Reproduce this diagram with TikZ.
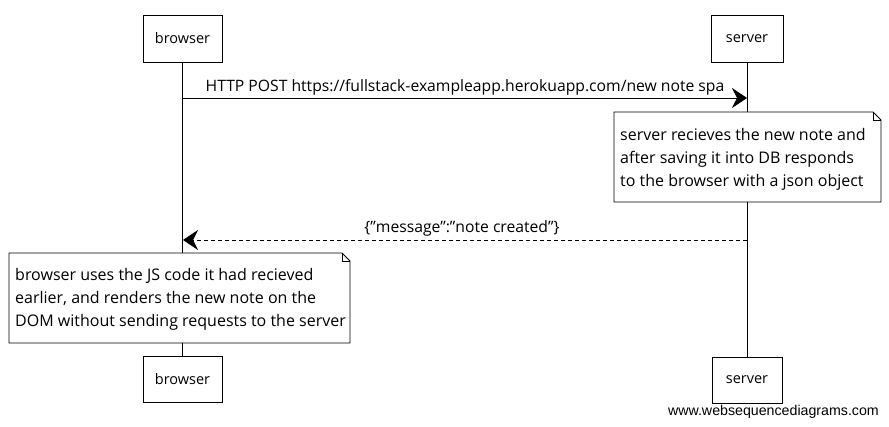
\documentclass[tikz,border=0pt]{standalone}
\usepackage{fontspec}
\setmainfont{Open Sans}[Ligatures=ResetAll]
\newfontfamily\wsdfont{Liberation Sans}
\newcommand{\sq}{\char"22\relax}
\usetikzlibrary{arrows.meta}
\tikzset{
  actor/.style={draw, line width=0.8pt, fill=white, inner sep=0pt, font=\fontsize{14.5}{16}\selectfont},
  lifeline/.style={line width=0.9pt},
  msg/.style={line width=0.9pt, -{Stealth[length=15pt, width=20pt, inset=5pt]}},
  reply/.style={msg, dash pattern=on 4pt off 3pt},
  notetext/.style={inner xsep=6pt, inner ysep=0pt, align=left, font=\fontsize{16}{23}\selectfont},
  notebox/.style={draw, line width=0.8pt, fill=white},
  lbl/.style={font=\fontsize{15.7}{18}\selectfont, inner sep=0pt}
}
\begin{document}
\begin{tikzpicture}[x=1pt,y=-1pt]
\useasboundingbox (0,0) rectangle (889,427);
% actors
\node[actor, minimum width=79pt, minimum height=47pt] (bt) at (182.5,38.5) {browser};
\node[actor, minimum width=72pt, minimum height=47pt] (st) at (747,38.5) {server};
\node[actor, minimum width=79pt, minimum height=46pt] (bb) at (182.5,379.5) {browser};
\node[actor, minimum width=70pt, minimum height=46pt] (sb) at (747,380) {server};
% lifelines
\draw[lifeline] (bt.south) -- (bb.north);
\draw[lifeline] (st.south) -- (sb.north);
% message 1
\coordinate (m1s) at (183,98);
\coordinate (m1e) at (747,98);
\draw[msg] (m1s) -- (m1e);
\node[lbl] (m1l) at (465,87) {HTTP POST https://fullstack-exampleapp.herokuapp.com/new note spa};
% server note
\path[notebox] (614,112) -- (873,112) -- (881,120) -- (881,202) -- (614,202) -- cycle;
\draw[line width=0.6pt] (873,112) -- (873,120) -- (881,120);
\node[notetext, anchor=north west] (sn) at (614,128) {server recieves the new note and\\after saving it into DB responds\\to the browser with a json object};
% reply
\coordinate (m2s) at (747,240);
\coordinate (m2e) at (183,240);
\draw[reply] (m2s) -- (m2e);
\node[lbl] (m2l) at (462,228) {\{\sq message\sq:\sq note created\sq\}};
% browser note
\path[notebox] (9,253) -- (342,253) -- (350,261) -- (350,343) -- (9,343) -- cycle;
\draw[line width=0.6pt] (342,253) -- (342,261) -- (350,261);
\node[notetext, anchor=north west] (bn) at (9,268) {browser uses the JS code it had recieved\\earlier, and renders the new note on the\\DOM without sending requests to the server};
% watermark
\node[inner sep=0pt, anchor=east, font=\wsdfont\fontsize{14.2}{16}\selectfont] (wm) at (879,412) {www.websequencediagrams.com};
\end{tikzpicture}
\end{document}
